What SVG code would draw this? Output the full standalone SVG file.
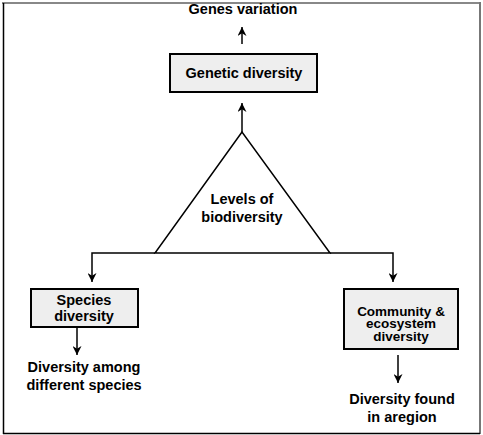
<svg xmlns="http://www.w3.org/2000/svg" width="483" height="435" viewBox="0 0 483 435">
<defs>
<marker id="ah" viewBox="0 0 10 10" refX="10" refY="5" markerWidth="9" markerHeight="9" markerUnits="userSpaceOnUse" orient="auto">
<path d="M0,0 L10,5 L0,10 L3,5 z" fill="#000"/>
</marker>
</defs>
<style>
text{font-family:"Liberation Sans",Arial,sans-serif;font-weight:bold;font-size:14.5px;fill:#000;text-anchor:middle}
.sm{font-size:13.5px}
.box{fill:#eeeeee;stroke:#000;stroke-width:2}
.ln{fill:none;stroke:#000;stroke-width:1.5}
.arr{fill:none;stroke:#000;stroke-width:1.5;marker-end:url(#ah)}
</style>
<rect width="483" height="435" fill="#fff"/>
<g id="frame">
<line x1="2" y1="3" x2="481" y2="3" stroke="#888" stroke-width="2"/>
<line x1="480" y1="2" x2="480" y2="434" stroke="#777" stroke-width="2"/>
<line x1="3.5" y1="3" x2="3.5" y2="434" stroke="#000" stroke-width="1.5"/>
<line x1="3" y1="433.5" x2="480" y2="433.5" stroke="#000" stroke-width="1.5"/>
</g>
<g id="connectors">
<line class="arr" x1="242" y1="44" x2="242" y2="27"/>
<line class="arr" x1="242" y1="132" x2="242" y2="103"/>
<polyline class="arr" points="155,253 92,253 92,282"/>
<polyline class="arr" points="330,253 393,253 393,282"/>
<line class="arr" x1="77" y1="327" x2="77" y2="355"/>
<line class="arr" x1="398" y1="355" x2="398" y2="383"/>
</g>
<g id="genes-variation"><text x="243" y="14">Genes variation</text></g>
<g id="genetic-diversity">
<rect class="box" x="170" y="54" width="147" height="38"/>
<text x="244" y="78">Genetic diversity</text>
</g>
<g id="levels">
<polygon class="ln" points="242,132 155,253 330,253"/>
<text x="242" y="204">Levels of</text>
<text x="242" y="222">biodiversity</text>
</g>
<g id="species-diversity">
<rect class="box" x="31" y="289" width="107" height="38"/>
<text x="84" y="305">Species</text>
<text x="84" y="321">diversity</text>
</g>
<g id="species-desc">
<text x="84" y="372">Diversity among</text>
<text x="84" y="390">different species</text>
</g>
<g id="community-diversity">
<rect class="box" x="344" y="289" width="114" height="60"/>
<text class="sm" x="401" y="315.5">Community &amp;</text>
<text class="sm" x="401" y="328">ecosystem</text>
<text class="sm" x="401" y="341">diversity</text>
</g>
<g id="community-desc">
<text x="402" y="404">Diversity found</text>
<text x="402" y="422">in aregion</text>
</g>
</svg>
